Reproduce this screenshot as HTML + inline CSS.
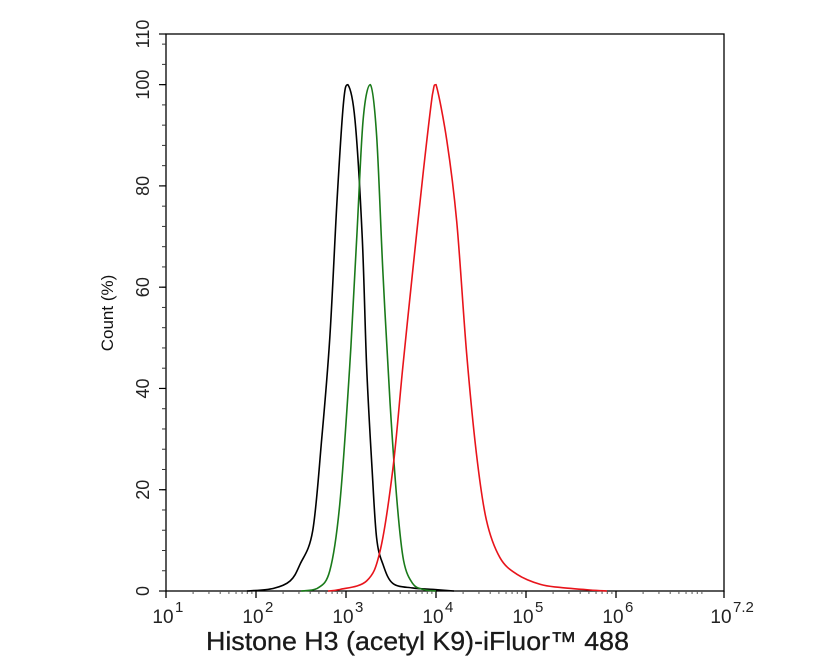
<!DOCTYPE html>
<html><head><meta charset="utf-8"><style>
html,body{margin:0;padding:0;background:#fff;}
svg{display:block;font-family:"Liberation Sans",Arial,sans-serif;}
</style></head><body>
<svg id="chart" width="835" height="668" viewBox="0 0 835 668" xmlns="http://www.w3.org/2000/svg">
<g id="axes"></g>
<g id="series"></g>
<text transform="translate(113,313) rotate(-90)" text-anchor="middle" font-size="17" fill="#111">Count  (%)</text>
<text x="206" y="650" textLength="423" lengthAdjust="spacingAndGlyphs" font-size="26" fill="#1a1a1a" stroke="#1a1a1a" stroke-width="0.3">Histone H3 (acetyl K9)-iFluor™ 488</text>
</svg>
<script>
const xMin = 1, xMax = 7.2;
const yMin = 0, yMax = 110;
const xTickLabels = ["1","2","3","4","5","6","7.2"];
const xTickValues = [1,2,3,4,5,6,7.2];
const yTickValues = [0,20,40,60,80,100,110];
const blackLog = [1.9,2.19,2.38,2.49,2.63,2.73,2.82,2.90,2.97,3.02,3.10,3.18,3.23,3.29,3.34,3.41,3.52,3.74,3.97,4.2];
const blackPct = [0,0.5,2,5.3,11.9,30,50,77,96,100,93,70,44,24,10.5,5.3,1.5,0.6,0.3,0];
const greenLog = [2.5,2.68,2.82,2.93,3.04,3.12,3.19,3.27,3.34,3.41,3.49,3.57,3.64,3.74,3.86,4.0];
const greenPct = [0,0.5,4,17,44,70,93,100,90,63,37,17,6,1.5,0.3,0];
const redLog = [2.8,2.93,3.23,3.38,3.52,3.63,3.74,3.86,3.96,4.0,4.12,4.23,4.34,4.45,4.56,4.71,4.9,5.16,5.38,5.71,5.9];
const redPct = [0,0.3,2,8,24,44,63,83,98,100,89,73,47,27,14,6.6,3.3,1.3,0.7,0.2,0];

const L=166,R=724,T=34,B=591;
const sx=v=>L+(v-xMin)/(xMax-xMin)*(R-L);
const sy=v=>B-(v-yMin)/(yMax-yMin)*(B-T);
const NS="http://www.w3.org/2000/svg";
const axes=document.getElementById('axes'), ser=document.getElementById('series');
function mk(tag,attrs,parent){const e=document.createElementNS(NS,tag);for(const k in attrs)e.setAttribute(k,attrs[k]);parent.appendChild(e);return e;}
const frame=mk('rect',{x:L,y:T,width:R-L,height:B-T,fill:'none',stroke:'#000','stroke-width':1.3},axes);


for(let v=0;v<=110;v+=4){
  const t=mk('line',{x1:L-4,x2:L,y1:sy(v),y2:sy(v),stroke:'#333','stroke-width':1},axes);
  
  
}
yTickValues.forEach(v=>{
  const t=mk('line',{x1:L-7,x2:L,y1:sy(v),y2:sy(v),stroke:'#000','stroke-width':1.2},axes);
  
  
  const tx=mk('text',{transform:`translate(149,${sy(v)}) rotate(-90)`,'text-anchor':'middle','font-size':18,fill:'#222'},axes);
  tx.textContent=String(v);
  
  
});
for(let d=1;d<7.2;d++){
  for(let m=2;m<=9;m++){
    const v=d+Math.log10(m); if(v>xMax)break;
    const t=mk('line',{x1:sx(v),x2:sx(v),y1:B,y2:B+3,stroke:'#555','stroke-width':1},axes);
    
    
  }
}
xTickValues.forEach((v,i)=>{
  const t=mk('line',{x1:sx(v),x2:sx(v),y1:B,y2:B+7,stroke:'#000','stroke-width':1.3},axes);
  
  
  const tx=mk('text',{x:sx(v)-3,y:623,'text-anchor':'middle','font-size':19,fill:'#222'},axes);
  tx.textContent='10';
  
  
  const sp=mk('text',{x:sx(v)+9,y:612,'text-anchor':'start','font-size':15,fill:'#222'},axes);
  sp.textContent=xTickLabels[i];
  
  
});
function line(xs,ys,color,name){
  const pts=xs.map((x,i)=>[sx(x),sy(ys[i])]);
  let d='M'+pts[0][0]+','+pts[0][1];
  for(let i=0;i<pts.length-1;i++){
    const p0=pts[Math.max(0,i-1)],p1=pts[i],p2=pts[i+1],p3=pts[Math.min(pts.length-1,i+2)];
    const lo=Math.min(p1[1],p2[1]), hi=Math.max(p1[1],p2[1]);
    const cl=v=>Math.max(lo,Math.min(hi,v));
    const c1x=p1[0]+(p2[0]-p0[0])/6,c1y=cl(p1[1]+(p2[1]-p0[1])/6);
    const c2x=p2[0]-(p3[0]-p1[0])/6,c2y=cl(p2[1]-(p3[1]-p1[1])/6);
    d+=` C${c1x},${c1y} ${c2x},${c2y} ${p2[0]},${p2[1]}`;
  }
  const p=mk('path',{d:d,fill:'none',stroke:color,'stroke-width':1.6},ser);
  
  
}
line(blackLog,blackPct,'#000','series-control-black');
line(greenLog,greenPct,'#1a7a1a','series-isotype-green');
line(redLog,redPct,'#e8141b','series-antibody-red');
</script>
</body></html>
